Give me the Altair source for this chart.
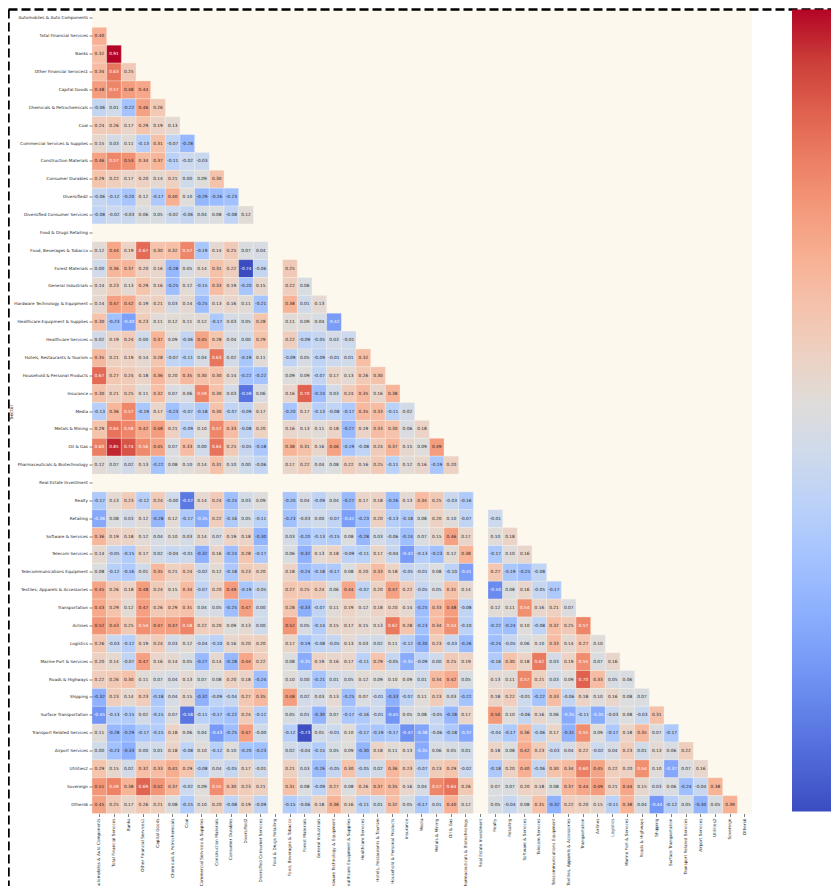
import altair as alt
import pandas as pd
import numpy as np

sectors = [
    "Automobiles & Auto Components", "Total Financial Services", "Banks",
    "Other Financial Services1", "Capital Goods", "Chemicals & Petrochemicals",
    "Coal", "Commercial Services & Supplies", "Construction Materials",
    "Consumer Durables", "Diversified2", "Diversified Consumer Services",
    "Food & Drugs Retailing", "Food, Beverages & Tobacco", "Forest Materials",
    "General Industrials", "Hardware Technology & Equipment",
    "Healthcare Equipment & Supplies", "Healthcare Services",
    "Hotels, Restaurants & Tourism", "Household & Personal Products",
    "Insurance", "Media", "Metals & Mining", "Oil & Gas",
    "Pharmaceuticals & Biotechnology", "Real Estate Investment", "Realty",
    "Retailing", "Software & Services", "Telecom Services",
    "Telecommunications Equipment", "Textiles, Apparels & Accessories",
    "Transportation", "Airlines", "Logistics", "Marine Port & Services",
    "Roads & Highways", "Shipping", "Surface Transportation",
    "Transport Related Services", "Airport Services", "Utilities2",
    "Sovereign", "Others6",
]

# lower-triangle correlation rows (None = missing)
r01 = []
r02 = [0.40]
r03 = [0.32, 0.91]
r04 = [0.34, 0.63, 0.25]
r05 = [0.48, 0.57, 0.48, 0.44]
r06 = [-0.06, 0.01, -0.22, 0.46, 0.26]
r07 = [0.24, 0.26, 0.17, 0.29, 0.19, 0.13]
r08 = [0.15, 0.03, 0.11, -0.13, 0.31, -0.07, -0.28]
r09 = [0.46, 0.57, 0.53, 0.34, 0.37, -0.11, -0.02, -0.03]
r10 = [0.29, 0.22, 0.17, 0.20, 0.14, 0.21, 0.00, 0.09, 0.30]
r11 = [-0.06, -0.12, -0.20, 0.12, -0.17, 0.40, 0.10, -0.29, -0.26, -0.23]
r12 = [-0.08, -0.02, -0.03, 0.06, 0.05, -0.02, -0.06, 0.04, 0.08, -0.08, 0.12]
r13 = [None] * 12
r14 = [0.12, 0.44, 0.19, 0.67, 0.30, 0.32, 0.57, -0.19, 0.14, 0.25, 0.07, 0.04, None]
r15 = [0.00, 0.36, 0.37, 0.20, 0.16, -0.28, 0.05, 0.14, 0.31, 0.22, -0.74, -0.06, None, 0.25]
r16 = [0.14, 0.23, 0.13, 0.29, 0.16, -0.25, 0.12, -0.15, 0.33, 0.19, -0.20, 0.15, None, 0.22, 0.06]
r17 = [0.14, 0.47, 0.42, 0.19, 0.21, 0.03, 0.14, -0.25, 0.13, 0.16, 0.11, -0.21, None, 0.38, 0.01, 0.13]
r18 = [0.30, -0.23, -0.40, 0.23, 0.11, 0.12, 0.11, 0.12, -0.17, 0.03, 0.05, 0.28, None, 0.11, 0.09, 0.04, -0.42]
r19 = [0.02, 0.19, 0.24, 0.00, 0.37, 0.09, -0.06, 0.45, 0.28, 0.04, 0.00, 0.29, None, 0.22, -0.09, -0.05, 0.03, -0.01]
r20 = [0.35, 0.21, 0.19, 0.14, 0.28, -0.07, -0.11, 0.04, 0.63, 0.02, -0.19, 0.11, None, -0.09, 0.05, -0.09, -0.01, 0.01, 0.32]
r21 = [0.67, 0.27, 0.24, 0.18, 0.36, 0.20, 0.35, 0.30, 0.30, 0.14, -0.22, -0.22, None, 0.09, 0.09, -0.07, 0.17, 0.13, 0.26, 0.30]
r22 = [0.30, 0.21, 0.25, 0.11, 0.32, 0.07, 0.06, 0.59, 0.30, 0.03, -0.59, 0.06, None, 0.16, 0.70, -0.24, 0.03, 0.24, 0.35, 0.16, 0.38]
r23 = [-0.13, 0.36, 0.57, -0.19, 0.17, -0.23, -0.07, -0.18, 0.30, -0.07, -0.09, 0.17, None, -0.20, 0.17, -0.13, -0.08, -0.17, 0.35, 0.33, -0.11, 0.02]
r24 = [0.29, 0.64, 0.58, 0.42, 0.48, 0.21, -0.09, 0.10, 0.57, 0.33, -0.08, 0.20, None, 0.16, 0.13, 0.11, 0.18, -0.27, 0.19, 0.33, 0.30, 0.06, 0.18]
r25 = [0.60, 0.85, 0.74, 0.56, 0.45, 0.07, 0.33, 0.00, 0.64, 0.25, -0.05, -0.18, None, 0.38, 0.31, 0.16, 0.46, -0.19, -0.08, 0.24, 0.37, 0.15, 0.09, 0.49]
r26 = [0.12, 0.07, 0.02, 0.13, -0.22, 0.08, 0.10, 0.14, 0.31, 0.10, 0.00, -0.06, None, 0.17, 0.22, 0.04, 0.08, 0.22, 0.16, 0.25, -0.11, 0.12, 0.16, -0.19, 0.20]
r27 = [None] * 26
r28 = [-0.17, 0.13, 0.23, -0.12, 0.24, -0.0, -0.57, 0.14, 0.24, -0.24, 0.03, 0.09, None, -0.20, 0.04, -0.09, 0.04, -0.27, 0.17, 0.18, -0.26, 0.13, 0.34, 0.25, -0.03, -0.16, None]
r29 = [-0.36, 0.08, 0.03, 0.12, -0.28, 0.12, -0.17, -0.35, 0.22, -0.16, 0.05, -0.11, None, -0.23, -0.03, 0.00, -0.07, -0.41, -0.23, 0.20, -0.13, -0.18, 0.08, 0.20, 0.10, -0.07, None, -0.01]
r30 = [0.36, 0.19, 0.18, 0.12, 0.04, 0.10, 0.03, 0.14, 0.07, 0.19, 0.18, -0.30, None, 0.03, -0.20, -0.13, -0.15, 0.08, -0.28, 0.03, -0.06, -0.24, 0.07, 0.15, 0.46, 0.17, None, 0.10, 0.18]
r31 = [0.14, -0.05, -0.15, 0.17, 0.02, -0.04, -0.01, -0.32, 0.16, -0.24, 0.28, -0.17, None, 0.06, -0.32, 0.13, 0.18, -0.09, -0.11, 0.17, -0.04, -0.42, -0.13, -0.23, 0.12, 0.38, None, -0.17, 0.10, 0.16]
r32 = [0.08, -0.12, -0.16, 0.01, 0.35, 0.21, 0.24, -0.02, 0.12, -0.18, 0.23, 0.20, None, 0.18, -0.24, -0.18, -0.17, 0.08, 0.20, 0.33, 0.18, -0.05, -0.01, 0.08, -0.10, -0.41, None, 0.27, -0.19, -0.25, -0.08]
r33 = [0.45, 0.26, 0.18, 0.48, 0.24, 0.15, 0.34, -0.07, 0.20, 0.49, -0.19, -0.05, None, 0.27, 0.25, 0.24, 0.06, 0.44, -0.07, 0.20, 0.47, 0.22, -0.05, 0.05, 0.31, 0.14, None, -0.50, 0.08, 0.16, -0.05, -0.17]
r34 = [0.43, 0.29, 0.12, 0.47, 0.26, 0.29, 0.31, 0.04, 0.05, -0.25, 0.47, 0.00, None, 0.28, -0.33, -0.07, 0.11, 0.19, 0.12, 0.18, 0.20, 0.14, -0.25, 0.33, 0.48, -0.08, None, 0.12, 0.11, 0.54, 0.16, 0.21, 0.07]
r35 = [0.52, 0.43, 0.25, 0.54, 0.47, 0.47, 0.58, 0.22, 0.20, 0.09, 0.13, 0.00, None, 0.52, 0.05, -0.14, 0.15, 0.17, 0.15, 0.13, 0.62, 0.28, -0.23, 0.34, 0.54, -0.10, None, -0.22, -0.24, 0.10, -0.08, 0.32, 0.25, 0.57]
r36 = [0.26, -0.03, -0.12, 0.19, 0.24, 0.03, 0.12, -0.04, -0.10, 0.16, 0.20, 0.20, None, 0.17, -0.19, -0.08, -0.05, 0.13, 0.03, 0.02, 0.11, -0.12, -0.30, 0.23, -0.03, -0.26, None, -0.24, -0.05, 0.06, 0.10, 0.33, 0.14, 0.27, 0.10]
r37 = [0.20, 0.14, -0.07, 0.47, 0.16, 0.14, 0.05, -0.27, 0.14, -0.28, 0.44, 0.22, None, 0.08, -0.35, 0.19, 0.16, 0.17, -0.11, 0.29, -0.05, -0.35, -0.09, 0.00, 0.25, 0.19, None, -0.16, 0.30, 0.18, 0.62, 0.03, 0.19, 0.55, 0.07, 0.16]
r38 = [0.22, 0.26, 0.30, 0.11, 0.07, 0.04, 0.13, 0.07, 0.08, 0.20, 0.18, -0.24, None, 0.10, 0.00, -0.21, 0.01, 0.05, 0.12, 0.09, 0.10, 0.09, 0.01, 0.34, 0.42, 0.05, None, 0.13, 0.11, 0.57, 0.21, 0.03, 0.09, 0.70, 0.33, 0.05, 0.06]
r39 = [-0.32, 0.23, 0.14, 0.23, -0.18, 0.04, 0.15, -0.32, -0.09, -0.04, 0.27, 0.35, None, 0.48, 0.02, 0.03, 0.13, -0.25, 0.07, -0.01, -0.33, -0.07, 0.11, 0.23, 0.03, -0.22, None, 0.18, 0.22, -0.01, -0.22, 0.33, -0.06, 0.18, 0.10, 0.16, 0.08, 0.07]
r40 = [-0.45, -0.13, -0.15, 0.02, -0.15, 0.07, -0.58, -0.11, -0.17, -0.22, 0.24, -0.12, None, 0.05, 0.01, -0.30, 0.07, -0.17, -0.16, -0.01, -0.45, 0.05, 0.08, -0.05, -0.28, 0.17, None, 0.50, 0.10, -0.06, 0.16, 0.06, -0.35, -0.11, -0.35, -0.03, 0.08, -0.03, 0.31]
r41 = [0.11, -0.28, -0.29, -0.17, -0.15, 0.18, 0.06, 0.04, -0.43, -0.25, 0.47, -0.0, None, -0.12, -0.73, 0.01, -0.01, 0.10, -0.17, -0.19, -0.17, -0.47, -0.38, -0.06, -0.18, -0.37, None, -0.04, -0.17, 0.36, -0.06, 0.17, -0.31, 0.55, 0.09, -0.17, 0.18, 0.35, 0.07, -0.17]
r42 = [0.00, -0.23, -0.33, 0.00, 0.01, 0.18, -0.08, 0.10, -0.12, 0.10, -0.20, -0.23, None, 0.02, -0.04, -0.15, 0.05, 0.09, -0.30, 0.18, 0.11, 0.13, -0.35, 0.06, 0.05, 0.01, None, 0.18, 0.08, 0.42, 0.23, -0.03, 0.04, 0.22, -0.02, 0.04, 0.23, 0.01, 0.13, 0.06, 0.22]
r43 = [0.29, 0.15, 0.02, 0.32, 0.33, 0.41, 0.29, -0.08, 0.04, -0.05, 0.17, -0.01, None, 0.21, 0.03, -0.26, -0.05, 0.30, -0.05, 0.02, 0.36, 0.23, -0.07, 0.23, 0.29, -0.02, None, -0.18, 0.20, 0.40, -0.06, 0.30, 0.34, 0.60, 0.45, 0.22, 0.20, 0.54, 0.10, -0.37, 0.07, 0.16]
r44 = [0.51, 0.59, 0.38, 0.69, 0.52, 0.37, -0.02, 0.09, 0.55, 0.30, 0.23, 0.21, None, 0.31, 0.08, -0.09, 0.27, 0.08, 0.26, 0.37, 0.35, 0.16, 0.04, 0.57, 0.64, 0.26, None, 0.07, 0.07, 0.20, 0.18, 0.08, 0.37, 0.44, 0.49, 0.21, 0.44, 0.15, 0.03, 0.06, -0.24, -0.04, 0.38]
r45 = [0.45, 0.25, 0.17, 0.26, 0.21, 0.08, -0.15, 0.10, 0.20, -0.08, 0.19, -0.09, None, -0.15, -0.06, 0.18, 0.38, 0.16, -0.11, 0.01, 0.32, 0.05, -0.17, 0.01, 0.40, 0.12, None, 0.05, -0.04, 0.08, 0.31, -0.32, 0.22, 0.20, 0.15, -0.11, 0.38, 0.04, -0.44, -0.12, 0.05, -0.30, 0.05, 0.39]

rows = [r01, r02, r03, r04, r05, r06, r07, r08, r09, r10, r11, r12, r13, r14, r15,
        r16, r17, r18, r19, r20, r21, r22, r23, r24, r25, r26, r27, r28, r29, r30,
        r31, r32, r33, r34, r35, r36, r37, r38, r39, r40, r41, r42, r43, r44, r45]

# coolwarm colormap stops
coolwarm = ["#3b4cc0", "#4d68d7", "#6282ea", "#779af7", "#8db0fe", "#a3c2ff",
            "#b8d0f9", "#ccd9ee", "#dddddd", "#ecd3c5", "#f5c4ad", "#f7b194",
            "#f49a7b", "#ec7f63", "#de604d", "#cb3e38", "#b40426"]
cbar_ticks = [-0.6, -0.4, -0.2, 0.0, 0.2, 0.4, 0.6, 0.8]

recs = []
for name, vals in zip(sectors, rows):
    for j, v in enumerate(vals):
        if v is None:
            continue
        recs.append({"row": name, "col": sectors[j], "value": v, "label": f"{v:.2f}"})
df = pd.DataFrame(recs)

vmin, vmax = float(df["value"].min()), float(df["value"].max())
stops = [float(s) for s in np.linspace(vmin, vmax, len(coolwarm))]

W, H = 660, 804
PAD_L, PAD_T = 84, 1.5
TOTAL_W, TOTAL_H = 823, 878
FONT = "DejaVu Sans"
DARK = "#262626"

x_enc = alt.X("col:N",
              scale=alt.Scale(domain=sectors, paddingInner=0, paddingOuter=0),
              axis=alt.Axis(title="Sector", labelAngle=-90, labelFontSize=4.2,
                            labelPadding=1.5, labelOverlap=False, labelLimit=300,
                            titleFontSize=4.6, titleFontWeight="normal",
                            titleY=77, titleBaseline="top"))
y_enc = alt.Y("row:N",
              scale=alt.Scale(domain=sectors, paddingInner=0, paddingOuter=0),
              axis=alt.Axis(title="Sector", labelFontSize=4.2, labelPadding=1.5,
                            labelOverlap=False, labelLimit=300,
                            titleFontSize=4.6, titleFontWeight="normal",
                            titleX=-81, titleY=H / 2, titleAngle=270,
                            titleBaseline="middle", titleAlign="center"))

base = alt.Chart(df).encode(x=x_enc, y=y_enc)

rect = base.mark_rect(stroke="#fdf8ed", strokeWidth=0.3).encode(
    color=alt.Color("value:Q",
                    scale=alt.Scale(domain=stops, range=coolwarm, interpolate="rgb"),
                    legend=alt.Legend(title=None, orient="right", offset=40,
                                      gradientLength=802, gradientThickness=40,
                                      gradientStrokeWidth=0, values=cbar_ticks,
                                      labelFontSize=4, labelColor=DARK,
                                      labelOffset=3, padding=0))
)

text = base.mark_text(fontSize=4.3, font=FONT).encode(
    text="label:N",
    color=alt.condition("datum.value > 0.53 || datum.value < -0.34",
                        alt.value("white"), alt.value(DARK)),
)

one = pd.DataFrame({"k": [0]})
top_line = alt.Chart(one).mark_rule(color="black", strokeWidth=2.5, strokeDash=[9, 4]).encode(
    x=alt.value(-83.5), x2=alt.value(760), y=alt.value(0))
left_line = alt.Chart(one).mark_rule(color="black", strokeWidth=2.5, strokeDash=[9, 4]).encode(
    x=alt.value(-83.5), y=alt.value(0), y2=alt.value(890))

chart = alt.layer(rect, text, top_line, left_line).properties(
    width=W, height=H,
    autosize=alt.AutoSizeParams(type="none"),
    padding={"left": PAD_L, "top": PAD_T, "right": TOTAL_W - PAD_L - W,
             "bottom": TOTAL_H - PAD_T - H},
    background="white",
).configure_view(
    fill="#fdf8ed", strokeWidth=0
).configure_axis(
    labelFont=FONT, titleFont=FONT, labelColor=DARK, titleColor=DARK,
    tickColor=DARK, tickSize=3, tickWidth=0.6, domain=False, grid=False
).configure_legend(
    labelFont=FONT
)

chart.save("out.html", embed_options={"renderer": "svg", "actions": False})
